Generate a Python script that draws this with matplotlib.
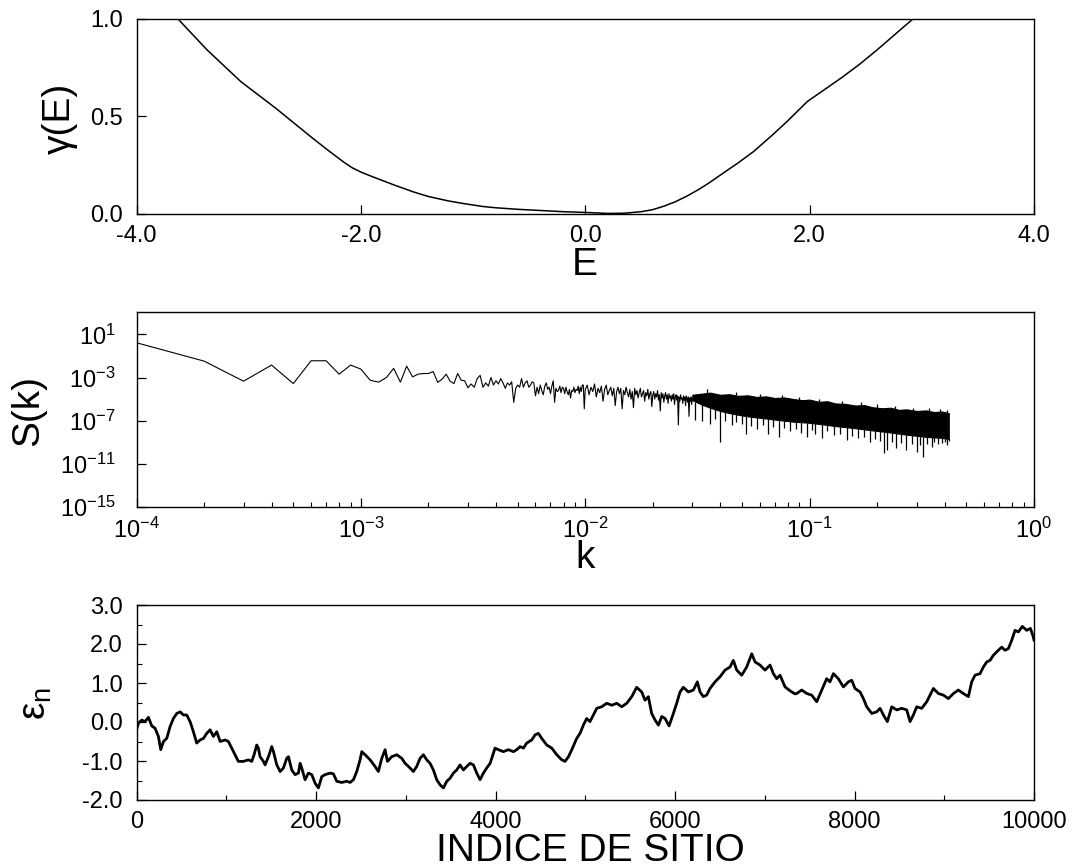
import numpy as np
import matplotlib
matplotlib.use("Agg")
import matplotlib.pyplot as plt
from matplotlib.ticker import FixedLocator, FixedFormatter, LogLocator, NullFormatter, NullLocator, MultipleLocator

plt.rcParams['font.family'] = ['Liberation Sans', 'DejaVu Sans']
plt.rcParams['mathtext.fontset'] = 'custom'
plt.rcParams['mathtext.rm'] = 'Liberation Sans'
plt.rcParams['mathtext.it'] = 'Liberation Sans:italic'
plt.rcParams['axes.unicode_minus'] = False

# ---------------- Panel 1: Lyapunov exponent gamma(E) ----------------
E_vals = [-3.63, -3.37, -3.07, -2.76, -2.45, -2.30, -2.15, -2.08, -2.0, -1.90, -1.70,
          -1.53, -1.40, -1.22, -1.10, -0.92, -0.80, -0.60, -0.40, -0.20, 0.0, 0.20,
          0.35, 0.50, 0.60, 0.70, 0.80, 0.90, 1.0, 1.10, 1.20, 1.36, 1.50, 1.67, 1.80,
          1.98, 2.10, 2.29, 2.45, 2.60, 2.92]
gamma_vals = [1.0, 0.841, 0.679, 0.543, 0.398, 0.330, 0.265, 0.238, 0.215, 0.192, 0.148,
              0.113, 0.090, 0.067, 0.055, 0.039, 0.032, 0.024, 0.018, 0.012, 0.008, 0.003,
              0.004, 0.012, 0.022, 0.040, 0.062, 0.090, 0.122, 0.158, 0.198, 0.261, 0.320,
              0.406, 0.475, 0.577, 0.625, 0.701, 0.770, 0.841, 1.0]

# ---------------- Panel 2: spectral density S(k) ----------------
# k = j / 10000 for j = 1..100 (individually read), log10 S values
logS_first = [0.22, -1.48, -3.34, -1.85, -3.56, -1.45, -1.45, -2.69, -1.85, -2.22,
              -3.25, -3.43, -3.00, -2.15, -3.43, -1.95, -2.94, -2.69, -2.63, -2.63,
              -2.45, -3.45, -3.16, -2.69, -3.35, -3.56, -2.63, -3.25, -3.30, -3.95,
              -3.6, -3.9, -3.1, -2.8, -3.9, -3.5, -3.8, -3.0, -3.7, -3.3,
              -3.6, -3.1, -3.5, -4.0, -3.5, -3.7, -3.4, -5.3, -4.0, -3.7,
              -3.9, -3.1, -3.9, -3.5, -3.3, -3.9, -3.7, -3.4, -3.5, -4.7,
              -3.9, -4.5, -3.7, -4.2, -4.6, -3.8, -3.5, -4.1, -3.9, -4.5,
              -3.8, -3.3, -5.3, -4.0, -4.3, -4.2, -3.8, -4.4, -3.9, -4.0,
              -4.5, -3.9, -4.3, -4.6, -4.1, -4.9, -4.2, -4.3, -3.9, -4.4,
              -4.1, -4.2, -3.8, -4.5, -3.9, -4.3, -3.7, -3.7, -5.9, -4.1]
# j = 102, 104, ..., 300 (estimated from the dense zigzag), log10 S values
logS_mid = [-3.7, -4.6, -3.9, -4.3, -3.6, -4.8, -4.0, -4.4, -3.8, -5.2,
            -4.1, -3.7, -4.6, -4.2, -3.9, -4.7, -4.0, -5.6, -4.3, -3.9,
            -4.5, -4.0, -5.9, -4.2, -4.6, -3.9, -4.4, -4.8, -4.1, -5.0,
            -4.3, -5.8, -4.0, -4.6, -4.2, -4.9, -4.4, -4.0, -4.8, -4.5,
            -4.2, -5.2, -4.4, -4.7, -4.1, -5.0, -4.5, -4.3, -5.7, -4.6,
            -4.3, -5.0, -4.5, -4.8, -4.2, -5.1, -4.6, -6.1, -4.4, -4.9,
            -4.5, -5.3, -4.7, -4.4, -5.0, -4.6, -5.4, -4.5, -4.9, -4.7,
            -5.2, -4.6, -5.0, -4.5, -5.5, -4.8, -4.6, -5.1, -4.7, -7.4,
            -4.8, -5.2, -4.6, -5.0, -4.9, -5.4, -4.7, -5.1, -4.8, -5.6,
            -4.7, -5.0, -5.3, -4.8, -6.6, -4.9, -5.2, -4.8, -5.5, -5.0]
# dense part (k >= 0.03): envelope of the black band (log10 S)
band_k = [0.030, 0.033, 0.036, 0.040, 0.044, 0.048, 0.053, 0.058, 0.064, 0.070,
          0.077, 0.085, 0.093, 0.100, 0.110, 0.120, 0.130, 0.145, 0.160, 0.175,
          0.190, 0.210, 0.230, 0.250, 0.270, 0.300, 0.330, 0.360, 0.390, 0.417]
band_hi = [-4.60, -4.50, -4.40, -4.60, -4.55, -4.70, -4.65, -4.80, -4.75, -4.90,
           -4.85, -5.00, -5.10, -5.05, -5.25, -5.20, -5.40, -5.45, -5.60, -5.55,
           -5.75, -5.85, -5.80, -6.00, -5.95, -6.10, -6.05, -6.20, -6.15, -6.30]
band_lo = [-5.1, -5.5, -5.8, -6.1, -6.3, -6.45, -6.6, -6.7, -6.8, -6.9,
           -7.0, -7.1, -7.15, -7.2, -7.3, -7.4, -7.5, -7.6, -7.7, -7.8,
           -7.9, -8.0, -8.1, -8.2, -8.3, -8.4, -8.5, -8.55, -8.6, -8.7]
# downward spikes below the band
spike_k = [0.031, 0.033, 0.036, 0.038, 0.040, 0.042, 0.045, 0.047, 0.050, 0.0523,
           0.055, 0.058, 0.062, 0.0655, 0.069, 0.073, 0.077, 0.082, 0.087, 0.092,
           0.0973, 0.102, 0.106, 0.114, 0.120, 0.128, 0.137, 0.146, 0.155, 0.165,
           0.175, 0.185, 0.195, 0.205, 0.215, 0.222, 0.232, 0.243, 0.255, 0.270,
           0.285, 0.300, 0.310, 0.320, 0.335, 0.350, 0.360, 0.375, 0.390, 0.400,
           0.410, 0.416]
spike_lo = [-6.9, -7.0, -7.3, -6.8, -9.0, -7.0, -7.4, -7.1, -7.3, -8.2,
            -7.5, -7.8, -7.4, -8.2, -7.6, -8.5, -7.7, -8.0, -7.8, -8.1,
            -8.5, -7.9, -8.2, -8.6, -8.0, -8.3, -8.2, -8.8, -8.4, -8.6,
            -8.5, -9.0, -8.7, -8.9, -10.0, -9.7, -9.0, -9.5, -9.1, -9.7,
            -9.2, -9.9, -9.3, -10.4, -9.2, -9.4, -9.0, -9.2, -9.1, -9.0,
            -9.3, -8.9]
# small upward hairs on top of the band
hair_k = [0.035, 0.047, 0.060, 0.075, 0.090, 0.110, 0.140, 0.170, 0.200, 0.240,
          0.290, 0.340, 0.380, 0.410]
hair_hi = [-4.1, -4.3, -4.5, -4.6, -4.8, -5.0, -5.2, -5.3, -5.5, -5.6,
           -5.8, -5.8, -5.9, -6.0]

# ---------------- Panel 3: site energies epsilon_n ----------------
site_n = [0, 22, 59, 96, 133, 170, 207, 244, 270, 300, 337, 374, 411, 449, 486, 523, 560,
          597, 634, 671, 709, 746, 783, 820, 857, 894, 932, 987, 1024, 1061, 1098, 1135,
          1191, 1247, 1284, 1310, 1340, 1358, 1377, 1414, 1433, 1470, 1507, 1526, 1563,
          1600, 1637, 1674, 1693, 1730, 1767, 1804, 1823, 1841, 1878, 1915, 1953, 1990,
          2027, 2064, 2101, 2157, 2194, 2231, 2287, 2343, 2380, 2417, 2454, 2491, 2510,
          2547, 2603, 2658, 2695, 2733, 2770, 2796, 2844, 2900, 2955, 2993, 3048, 3085,
          3122, 3160, 3197, 3234, 3271, 3308, 3345, 3382, 3420, 3457, 3494, 3531, 3568,
          3605, 3642, 3680, 3717, 3754, 3791, 3828, 3865, 3902, 3940, 3977, 3995, 4032,
          4088, 4144, 4200, 4237, 4274, 4311, 4348, 4404, 4441, 4478, 4515, 4571, 4627,
          4683, 4738, 4775, 4813, 4850, 4905, 4942, 4979, 5016, 5053, 5091, 5128, 5183,
          5239, 5295, 5351, 5406, 5462, 5518, 5573, 5629, 5666, 5703, 5740, 5778, 5815,
          5852, 5889, 5934, 5982, 6019, 6056, 6093, 6149, 6205, 6249, 6279, 6316, 6353,
          6390, 6446, 6502, 6557, 6613, 6650, 6688, 6743, 6799, 6855, 6892, 6947, 7003,
          7059, 7096, 7133, 7170, 7226, 7282, 7337, 7356, 7412, 7468, 7523, 7579, 7635,
          7690, 7727, 7765, 7820, 7876, 7932, 7969, 8006, 8062, 8099, 8136, 8192, 8247,
          8285, 8322, 8366, 8415, 8470, 8526, 8582, 8619, 8656, 8693, 8749, 8805, 8842,
          8879, 8935, 8990, 9046, 9102, 9157, 9213, 9269, 9306, 9343, 9399, 9436, 9473,
          9510, 9547, 9585, 9640, 9677, 9714, 9751, 9789, 9826, 9870, 9920, 9960, 9990,
          10000]
eps_n = [-0.20, -0.03, 0.05, 0.01, 0.12, -0.10, -0.16, -0.37, -0.71, -0.50, -0.42, -0.12,
         0.09, 0.22, 0.26, 0.18, 0.18, 0.01, -0.25, -0.54, -0.46, -0.42, -0.29, -0.20,
         -0.37, -0.25, -0.50, -0.46, -0.50, -0.67, -0.84, -1.01, -1.01, -0.97, -1.01,
         -0.84, -0.59, -0.67, -0.89, -1.01, -1.10, -0.89, -0.63, -0.76, -1.10, -1.27,
         -1.18, -0.93, -0.89, -1.23, -1.35, -1.31, -1.06, -1.18, -1.48, -1.31, -1.35,
         -1.57, -1.69, -1.40, -1.35, -1.31, -1.33, -1.52, -1.55, -1.52, -1.55, -1.48,
         -1.27, -0.97, -0.76, -0.84, -0.97, -1.14, -1.27, -0.93, -0.71, -1.01, -0.89,
         -0.84, -0.93, -1.06, -1.18, -1.27, -1.14, -0.93, -0.84, -0.97, -1.06, -1.23,
         -1.48, -1.61, -1.69, -1.52, -1.44, -1.31, -1.23, -1.10, -1.23, -1.14, -1.06,
         -1.10, -1.31, -1.48, -1.31, -1.18, -1.06, -0.80, -0.67, -0.71, -0.76, -0.71,
         -0.76, -0.71, -0.63, -0.67, -0.54, -0.46, -0.33, -0.29, -0.42, -0.59, -0.67,
         -0.84, -0.97, -1.01, -0.89, -0.71, -0.42, -0.29, -0.08, 0.09, 0.01, 0.18, 0.35,
         0.39, 0.48, 0.43, 0.48, 0.39, 0.48, 0.65, 0.89, 0.77, 0.56, 0.65, 0.22, 0.05,
         -0.08, 0.14, 0.09, -0.10, 0.22, 0.48, 0.77, 0.89, 0.77, 0.82, 1.03, 0.77, 0.65,
         0.69, 0.86, 1.03, 1.16, 1.33, 1.41, 1.58, 1.33, 1.20, 1.41, 1.75, 1.54, 1.46,
         1.33, 1.46, 1.24, 1.11, 1.20, 0.90, 0.80, 0.72, 0.73, 0.82, 0.73, 0.69, 0.52,
         0.82, 1.11, 1.03, 1.24, 1.11, 0.90, 1.03, 1.07, 0.86, 0.77, 0.60, 0.39, 0.22,
         0.26, 0.35, 0.18, 0.01, 0.39, 0.31, 0.35, 0.31, 0.01, 0.18, 0.39, 0.35, 0.52,
         0.69, 0.86, 0.73, 0.69, 0.60, 0.73, 0.82, 0.73, 0.65, 1.03, 1.20, 1.24, 1.41,
         1.54, 1.58, 1.71, 1.80, 1.92, 1.84, 1.88, 2.09, 2.35, 2.31, 2.45, 2.35, 2.40,
         2.20, 2.10]

# ---------------- Figure ----------------
W, H = 1074, 867
fig = plt.figure(figsize=(W / 100, H / 100), dpi=100)

def px_axes(x0, y0, x1, y1):
    return fig.add_axes([x0 / W, 1 - y1 / H, (x1 - x0) / W, (y1 - y0) / H])

L, R = 136.5, 1034
ax1 = px_axes(L, 19, R, 214)
ax2 = px_axes(L, 312, R, 507)
ax3 = px_axes(L, 605, R, 800)

TICK_FS = 17
LABEL_FS = 28

for ax in (ax1, ax2, ax3):
    for s in ax.spines.values():
        s.set_linewidth(1.0)
        s.set_color('black')
    ax.tick_params(which='major', direction='in', length=6.5, width=0.9,
                   labelsize=TICK_FS, top=False, right=False)
    ax.tick_params(which='minor', direction='in', length=3.5, width=0.8,
                   top=False, right=False)
    ax.tick_params(axis='x', pad=8)
    ax.tick_params(axis='y', pad=10)

# Panel 1
ax1.plot(E_vals, gamma_vals, color='black', lw=1.1)
ax1.set_xlim(-4, 4)
ax1.set_ylim(0, 1)
ax1.xaxis.set_major_locator(FixedLocator([-4, -2, 0, 2, 4]))
ax1.xaxis.set_major_formatter(FixedFormatter(['-4.0', '-2.0', '0.0', '2.0', '4.0']))
ax1.yaxis.set_major_locator(FixedLocator([0, 0.5, 1.0]))
ax1.yaxis.set_major_formatter(FixedFormatter(['0.0', '0.5', '1.0']))

# Panel 2
k_first = np.arange(1, len(logS_first) + 1) / 10000.0
k_mid = np.arange(102, 302, 2) / 10000.0
k_line = np.concatenate([k_first, k_mid])
S_line = 10 ** np.concatenate([logS_first, logS_mid])
ax2.plot(k_line, S_line, color='black', lw=0.8)
ax2.fill_between(band_k, 10 ** np.array(band_lo), 10 ** np.array(band_hi),
                 color='black', lw=0.8)
spike_top = np.interp(np.log10(spike_k), np.log10(band_k), band_lo)
ax2.vlines(spike_k, 10 ** np.array(spike_lo), 10 ** spike_top, color='black', lw=0.9)
hair_base = np.interp(np.log10(hair_k), np.log10(band_k), band_hi)
ax2.vlines(hair_k, 10 ** hair_base, 10 ** np.array(hair_hi), color='black', lw=0.9)
ax2.set_xscale('log')
ax2.set_yscale('log')
ax2.set_xlim(1e-4, 1)
ax2.set_ylim(1e-15, 10 ** 3.07)
ax2.xaxis.set_major_locator(FixedLocator([1e-4, 1e-3, 1e-2, 1e-1, 1]))
ax2.xaxis.set_major_formatter(FixedFormatter([r'$\mathregular{10^{-4}}$', r'$\mathregular{10^{-3}}$',
                                              r'$\mathregular{10^{-2}}$', r'$\mathregular{10^{-1}}$',
                                              r'$\mathregular{10^{0}}$']))
ax2.xaxis.set_minor_locator(LogLocator(base=10, subs=np.arange(2, 10), numticks=20))
ax2.xaxis.set_minor_formatter(NullFormatter())
ax2.yaxis.set_major_locator(FixedLocator([1e-15, 1e-11, 1e-7, 1e-3, 1e1]))
ax2.yaxis.set_major_formatter(FixedFormatter([r'$\mathregular{10^{-15}}$', r'$\mathregular{10^{-11}}$',
                                              r'$\mathregular{10^{-7}}$', r'$\mathregular{10^{-3}}$',
                                              r'$\mathregular{10^{1}}$']))
ax2.yaxis.set_minor_locator(NullLocator())
ax2.tick_params(axis='y', pad=15)

# Panel 3
ax3.plot(site_n, eps_n, color='black', lw=2.0)
ax3.set_xlim(0, 10000)
ax3.set_ylim(-2, 3)
ax3.xaxis.set_major_locator(FixedLocator([0, 2000, 4000, 6000, 8000, 10000]))
ax3.xaxis.set_major_formatter(FixedFormatter(['0', '2000', '4000', '6000', '8000', '10000']))
ax3.xaxis.set_minor_locator(MultipleLocator(1000))
ax3.yaxis.set_major_locator(FixedLocator([-2, -1, 0, 1, 2, 3]))
ax3.yaxis.set_major_formatter(FixedFormatter(['-2.0', '-1.0', '0.0', '1.0', '2.0', '3.0']))
ax3.yaxis.set_minor_locator(MultipleLocator(0.5))

# Axis labels (placed in pixel coordinates)
def ftext(x, y, s, **kw):
    fig.text(x / W, 1 - y / H, s, ha='center', va='center', **kw)

ftext(60, 118, 'γ(E)', fontsize=LABEL_FS, rotation=90)
ftext(585, 265, 'E', fontsize=LABEL_FS)
ftext(28, 410, 'S(k)', fontsize=LABEL_FS, rotation=90)
ftext(585, 558, 'k', fontsize=LABEL_FS)
ftext(36, 703, 'ε$_\\mathregular{n}$', fontsize=LABEL_FS, rotation=90)
ftext(590, 851, 'INDICE DE SITIO', fontsize=LABEL_FS)

fig.savefig('out.png', dpi=100)
